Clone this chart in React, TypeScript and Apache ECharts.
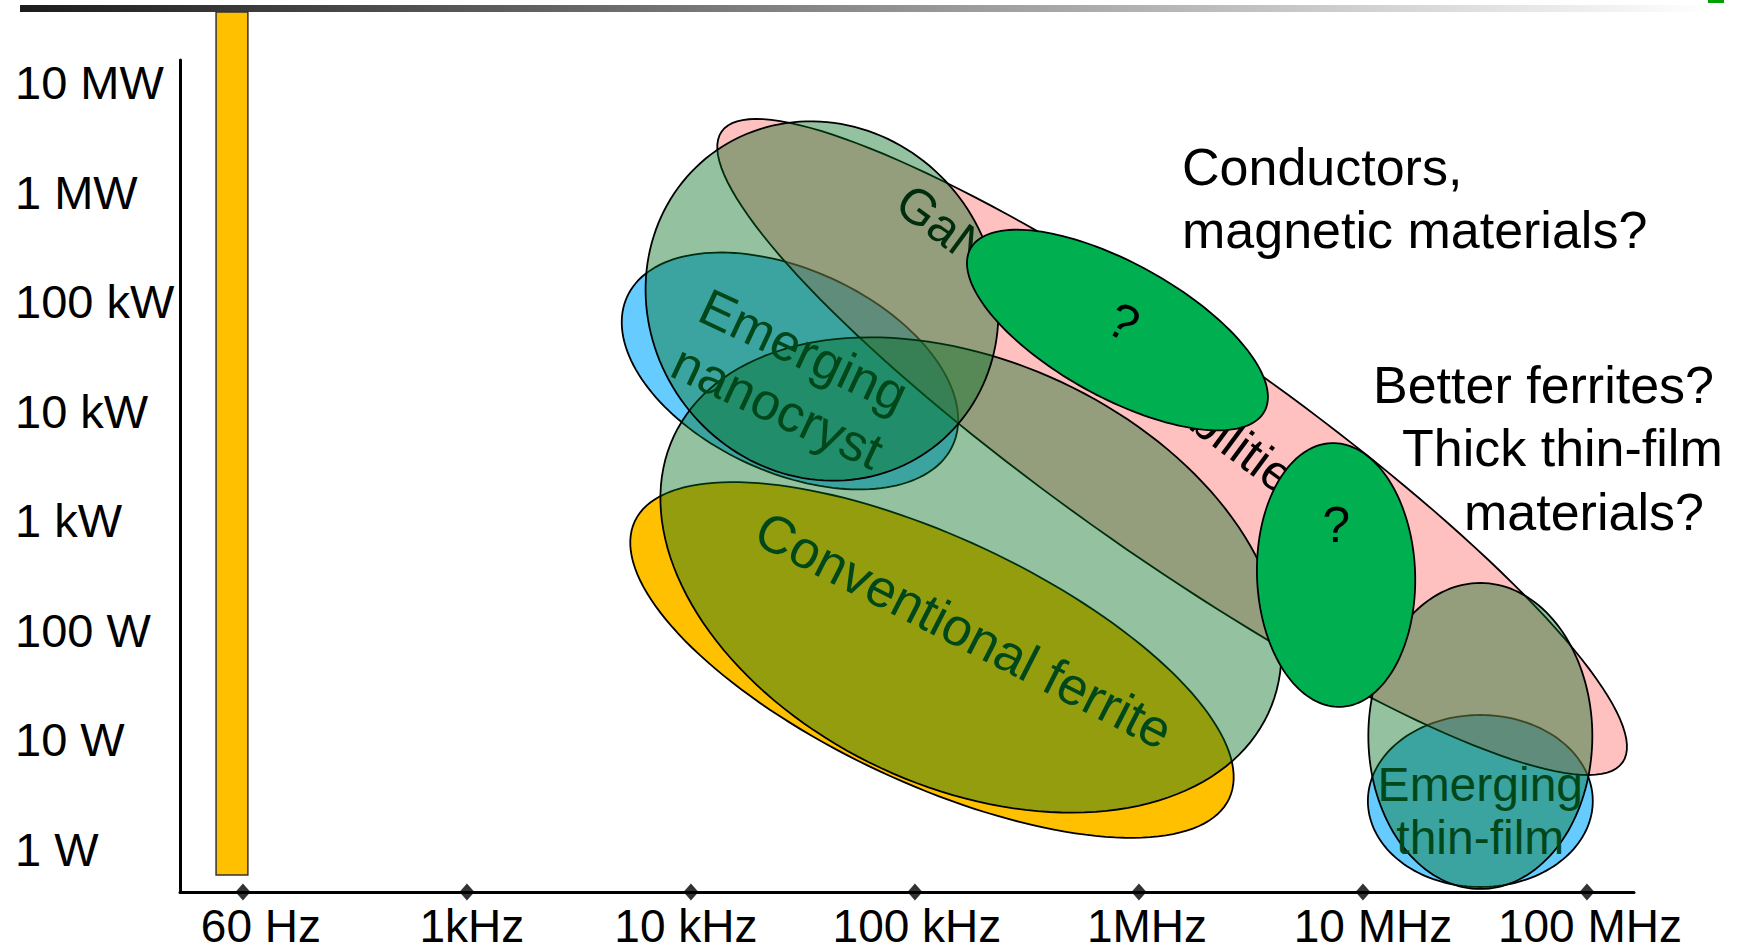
import React, { useEffect, useRef } from 'react';
import * as echarts from 'echarts';

const FONT = '"Liberation Sans", Arial, Helvetica, sans-serif';

// ---- Axis categories (evenly spaced steps) ----
const freqLabels = ['60 Hz', '1kHz', '10 kHz', '100 kHz', '1MHz', '10 MHz', '100 MHz'];
const freqSteps = [0, 1, 2, 3, 4, 5, 6];
const powerLabels = ['1 W', '10 W', '100 W', '1 kW', '10 kW', '100 kW', '1 MW', '10 MW'];
const powerSteps = [0, 1, 2, 3, 4, 5, 6, 7];

// axis extents, in steps
const freqMin = -0.281;
const freqMax = 6.21;
const powerMin = -0.389;
const powerMax = 7.209;

// ---- 60 Hz band ----
const bandFreq = [-0.049];
const bandHalfWidth = [0.071];
const bandPowerLow = [-0.234];
const bandPowerHigh = [7.647];

// ---- Regions (ellipses), drawn in this order ----
const regionNames = [
  'Conventional ferrite',
  'Emerging nanocryst',
  'Emerging thin-film',
  'GaN & SiC capabilities',
  'Ferrite reach',
  'GaN reach',
  'Thin-film reach',
  'Open question 1',
  'Open question 2',
];
const regionFreq = [3.076, 2.442, 5.524, 4.148, 3.25, 2.585, 5.524, 3.904, 4.88];
const regionPower = [1.73, 4.369, 0.442, 3.675, 2.506, 5.008, 1.036, 4.743, 2.506];
const regionMajor = [1.464, 0.799, 0.502, 2.455, 1.464, 0.821, 0.683, 0.75, 0.589];
const regionMinor = [0.549, 0.453, 0.384, 0.491, 0.951, 0.768, 0.5, 0.299, 0.353];
const regionTilt = [25, 24.5, 0, 35, 25, 53, 90, 29, 88];

// ---- Region labels ----
const labelText = ['GaN & SiC capabilities', 'Emerging\nnanocryst', 'Conventional ferrite', 'Emerging\nthin-film', '?', '?'];
const labelFreq = [3.851, 2.445, 3.219, 5.524, 3.93, 4.88];
const labelPower = [4.596, 4.3, 2.004, 0.351, 4.817, 2.963];
const labelAngle = [36.5, 25, 27, 0, 28, 0];
const labelRegion = [3, 1, 0, 2, 7, 8];

// ---- Annotations ----
const noteLines = ['Conductors,', 'magnetic materials?', 'Better ferrites?', 'Thick thin-film', 'materials?'];

// ---- Styles ----
const GREEN_T = 'rgba(0,110,30,0.42)';
const regionFill = ['#FFC000', '#66CCFF', '#66CCFF', 'rgba(255,105,105,0.42)', GREEN_T, GREEN_T, GREEN_T, '#00B050', '#00B050'];
const labelInline = [true, false, false, false, false, false];
const labelColor = ['#000', '#00481a', '#00481a', '#00481a', '#000', '#000'];
const labelSize = [50, 52, 53, 48, 50, 50];
const labelLineHeight = [50, 62, 62, 53, 50, 50];
const freqLabelShift = [18, 5, -5, 2, 8, 10, 3];
const notePos = [
  [1182, 167],
  [1182, 230],
  [1373, 385],
  [1402, 448],
  [1464, 512],
];

function ellipsePoints(api: any, cx: number, cy: number, a: number, b: number, tilt: number) {
  const c = api.coord([cx, cy]);
  const unit = api.size([1, 0])[0];
  const th = (tilt * Math.PI) / 180;
  const A = a * unit;
  const B = b * unit;
  const pts: number[][] = [];
  const N = 160;
  for (let k = 0; k < N; k++) {
    const t = (k / N) * Math.PI * 2;
    const ox = A * Math.cos(t) * Math.cos(th) - B * Math.sin(t) * Math.sin(th);
    const oy = A * Math.cos(t) * Math.sin(th) + B * Math.sin(t) * Math.cos(th);
    pts.push([c[0] + ox, c[1] + oy]);
  }
  return pts;
}

function labelEl(api: any, i: number) {
  const c = api.coord([labelFreq[i], labelPower[i]]);
  return {
    type: 'text',
    x: c[0],
    y: c[1],
    rotation: (-labelAngle[i] * Math.PI) / 180,
    style: {
      text: labelText[i],
      fill: labelColor[i],
      fontSize: labelSize[i],
      fontFamily: FONT,
      lineHeight: labelLineHeight[i],
      align: 'center',
      verticalAlign: 'middle',
    },
  };
}

export default function App() {
  const ref = useRef<HTMLDivElement>(null);

  useEffect(() => {
    if (!ref.current) return;
    const chart = echarts.init(ref.current, undefined, { renderer: 'svg' });

    const rich: Record<string, any> = {};
    freqLabelShift.forEach((d, i) => {
      rich['o' + i] = {
        fontSize: 46,
        lineHeight: 38,
        fontFamily: FONT,
        color: '#000',
        padding: d >= 0 ? [0, 0, 0, 2 * d] : [0, -2 * d, 0, 0],
      };
    });

    const option: any = {
      animation: false,
      backgroundColor: '#fff',
      grid: { left: 180, top: 60, width: 1454, height: 832, containLabel: false },
      xAxis: {
        type: 'value',
        min: freqMin,
        max: freqMax,
        position: 'bottom',
        axisLine: { show: true, onZero: false, lineStyle: { color: '#000', width: 3 } },
        axisTick: { show: false },
        splitLine: { show: false },
        axisLabel: {
          customValues: freqSteps,
          margin: 15,
          fontSize: 46,
          lineHeight: 38,
          fontFamily: FONT,
          color: '#000',
          formatter: (v: number) => {
            const i = Math.round(v);
            return '{o' + i + '|' + freqLabels[i] + '}';
          },
          rich,
        },
      },
      yAxis: {
        type: 'value',
        min: powerMin,
        max: powerMax,
        axisLine: { show: true, onZero: false, lineStyle: { color: '#000', width: 3 } },
        axisTick: { show: false },
        splitLine: { show: false },
        axisLabel: {
          customValues: powerSteps,
          align: 'left',
          margin: 165,
          fontSize: 47,
          fontFamily: FONT,
          color: '#000',
          formatter: (v: number) => powerLabels[Math.round(v)],
        },
      },
      graphic: [
        {
          type: 'rect',
          shape: { x: 20, y: 5, width: 1690, height: 7 },
          style: {
            fill: new echarts.graphic.LinearGradient(0, 0, 1, 0, [
              { offset: 0, color: '#1c1c1c' },
              { offset: 1, color: '#ffffff' },
            ]),
          },
          silent: true,
        },
        { type: 'rect', shape: { x: 1708, y: 0, width: 16, height: 3 }, style: { fill: '#00A000' }, silent: true },
        ...noteLines.map((t, i) => ({
          type: 'text',
          x: notePos[i][0],
          y: notePos[i][1],
          style: {
            text: t,
            fill: '#000',
            fontSize: 52,
            fontFamily: FONT,
            align: 'left',
            verticalAlign: 'middle',
          },
          silent: true,
        })),
      ],
      series: [
        {
          type: 'custom',
          name: '60 Hz',
          silent: true,
          clip: false,
          data: bandFreq.map((f, i) => [f, bandHalfWidth[i], bandPowerLow[i], bandPowerHigh[i]]),
          encode: { x: 0, y: 2 },
          renderItem: (params: any, api: any) => {
            const x = api.value(0);
            const w = api.value(1);
            const p1 = api.coord([x - w, api.value(3)]);
            const p2 = api.coord([x + w, api.value(2)]);
            return {
              type: 'rect',
              shape: { x: p1[0], y: p1[1], width: p2[0] - p1[0], height: p2[1] - p1[1] },
              style: { fill: '#FFC000', stroke: '#333', lineWidth: 1.5 },
            };
          },
        },
        {
          type: 'custom',
          name: 'regions',
          silent: true,
          clip: false,
          data: regionNames.map((n, i) => ({
            name: n,
            value: [regionFreq[i], regionPower[i], regionMajor[i], regionMinor[i], regionTilt[i]],
          })),
          encode: { x: 0, y: 1 },
          renderItem: (params: any, api: any) => {
            const idx = params.dataIndex;
            const pts = ellipsePoints(api, api.value(0), api.value(1), api.value(2), api.value(3), api.value(4));
            const children: any[] = [
              {
                type: 'polygon',
                shape: { points: pts },
                style: { fill: regionFill[idx], stroke: '#000', lineWidth: 1.8 },
              },
            ];
            labelRegion.forEach((r, li) => {
              if (r === idx && labelInline[li]) children.push(labelEl(api, li));
            });
            return { type: 'group', children };
          },
        },
        {
          type: 'custom',
          name: 'labels',
          silent: true,
          clip: false,
          data: labelText.map((t, i) => [labelFreq[i], labelPower[i]]),
          encode: { x: 0, y: 1 },
          renderItem: (params: any, api: any) => {
            const i = params.dataIndex;
            if (labelInline[i]) return { type: 'group', children: [] };
            return labelEl(api, i);
          },
        },
        {
          type: 'scatter',
          name: 'ticks',
          silent: true,
          clip: false,
          symbol: 'diamond',
          symbolSize: [15, 17],
          itemStyle: { color: '#000' },
          z: 10,
          data: freqSteps.map((v) => [v, powerMin]),
        },
      ],
    };

    chart.setOption(option);
    return () => {
      chart.dispose();
    };
  }, []);

  return (
    <div
      ref={ref}
      style={{ position: 'fixed', left: 0, top: 0, width: 1739, height: 952, background: '#fff' }}
    />
  );
}
